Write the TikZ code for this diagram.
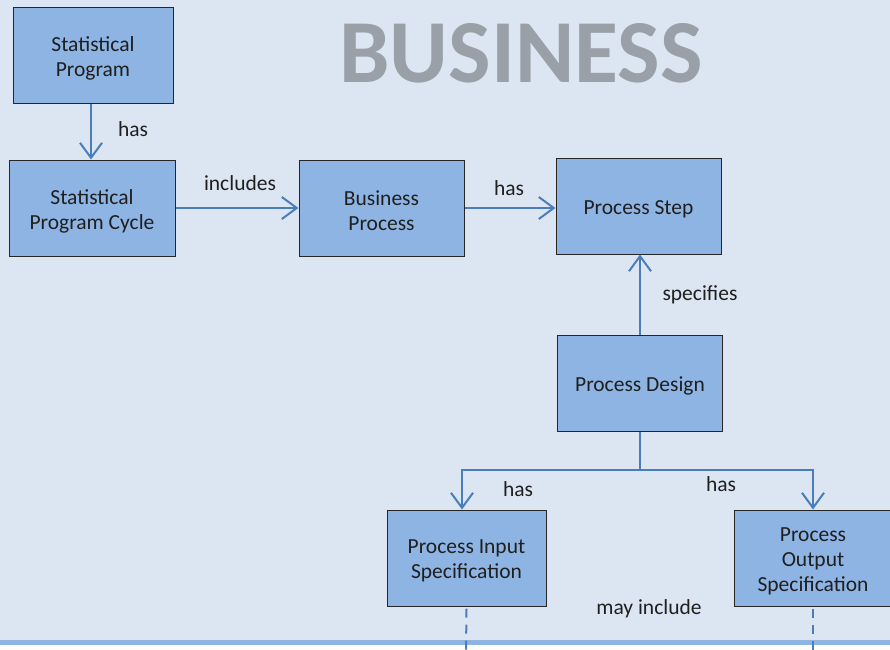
\documentclass[tikz,border=0pt]{standalone}
\usepackage{fontspec}
\setmainfont{Carlito}
\usetikzlibrary{arrows.meta}
\definecolor{pagebg}{HTML}{DCE6F2}
\definecolor{boxfill}{HTML}{8EB4E3}
\definecolor{linkblue}{HTML}{4A7EBB}
\definecolor{titlegray}{HTML}{9AA0A8}
\definecolor{textdark}{HTML}{1F1F1F}
\tikzset{
  entity/.style={draw=black!85, line width=1pt, fill=boxfill, minimum width=165pt,
    minimum height=96pt, inner sep=0pt},
  etext/.style={align=center, text=textdark, yshift=-3pt,
    font=\fontsize{21.5}{25}\selectfont, inner sep=0pt},
  link/.style={draw=linkblue, line width=2pt,
    -{Straight Barb[length=15pt,width=22pt,line width=2pt]}},
  plainlink/.style={draw=linkblue, line width=2pt},
  dashlink/.style={draw=linkblue, line width=2pt, dash pattern=on 9pt off 7pt},
  lbl/.style={text=textdark, font=\fontsize{21.5}{25}\selectfont, inner sep=0pt}
}
\begin{document}
\begin{tikzpicture}[x=1pt,y=-1pt]
  \useasboundingbox (0,0) rectangle (890,649);
  \fill[pagebg] (0,0) rectangle (890,649);
  \clip (0,0) rectangle (890,649);

  % title
  \node (title) [text=titlegray, font=\bfseries\fontsize{90}{90}\selectfont]
    at (521,53) {BUSINESS};

  % entities (box drawn by the node, caption set as a centred label)
  \node (sp)  [entity, minimum width=160pt, label={[etext]center:Statistical\\Program}] at (93,55) {};
  \node (spc) [entity, minimum width=166pt, label={[etext]center:Statistical\\Program Cycle}] at (92,208) {};
  \node (bp)  [entity, label={[etext]center:Business\\Process}] at (381.5,208) {};
  \node (ps)  [entity, label={[etext]center:Process Step}] at (638.5,206) {};
  \node (pd)  [entity, label={[etext]center:Process Design}] at (640,383) {};
  \node (pis) [entity, minimum width=159pt, label={[etext]center:Process Input\\Specification}] at (466.5,558) {};
  \node (pos) [entity, minimum width=158pt, label={[etext]center:Process\\Output\\Specification}] at (813,558) {};

  % connectors
  \draw[link] (sp.south -| 91,0) -- (spc.north -| 91,0);
  \node (l1) [lbl] at (133,129) {has};
  \draw[link] (spc.east) -- (bp.west);
  \node (l2) [lbl] at (240,183) {includes};
  \draw[link] (bp.east) -- (ps.west |- bp.east);
  \node (l3) [lbl] at (509,188) {has};
  \draw[link] (pd.north) -- (ps.south -| pd.north);
  \node (l4) [lbl] at (700,295) {specifies};

  \coordinate (fork) at (640,470);
  \draw[plainlink] (pd.south) -- (fork);
  \draw[link] (fork) -| (pis.north -| 462,0);
  \draw[link] (fork) -| (pos.north -| 813,0);
  \node (l5) [lbl] at (518,489) {has};
  \node (l6) [lbl] at (721,484) {has};

  % bottom rule and continuing links
  \fill[boxfill] (0,640) rectangle (890,645);
  \fill[white] (0,645) rectangle (890,649);
  \coordinate (pisend) at (466,652);
  \coordinate (posend) at (813,652);
  \draw[dashlink] (pis.south) ++(0,2) -- (pisend);
  \draw[dashlink] (pos.south) ++(0,2) -- (posend);
  \node (l7) [lbl] at (649,609) {may include};
\end{tikzpicture}
\end{document}
